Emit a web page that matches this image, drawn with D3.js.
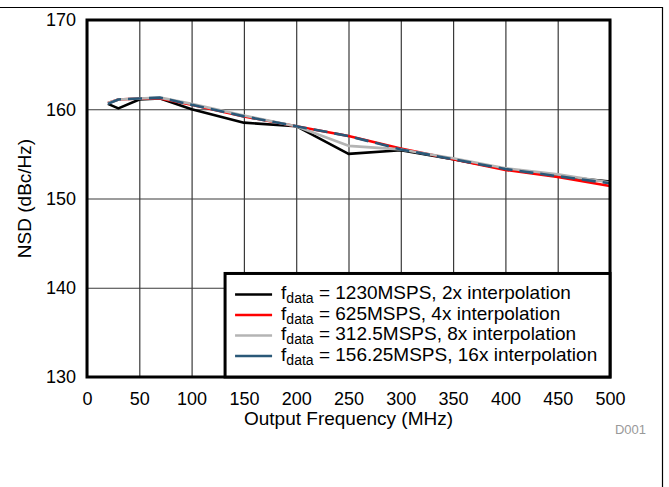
<!DOCTYPE html>
<html>
<head>
<meta charset="utf-8">
<script src="https://cdn.jsdelivr.net/npm/d3@7"></script>
<style>
  body { margin: 0; background: #fff; }
  svg { font-family: "Liberation Sans", Arial, sans-serif; }
</style>
</head>
<body>
<svg width="669" height="487"></svg>
<script>
// output frequency (MHz)
const freqs = [20, 30, 50, 70, 100, 150, 200, 250, 300, 350, 400, 450, 500];

// NSD (dBc/Hz)
const nsd2x  = [160.6, 160.1, 161.1, 161.2, 160.0, 158.5, 158.1, 155.0, 155.4, 154.4, 153.3, 152.5, 151.9];
const nsd4x  = [160.7, 161.1, 161.2, 161.2, 160.5, 159.2, 158.1, 157.0, 155.6, 154.4, 153.2, 152.4, 151.4];
const nsd8x  = [160.7, 161.1, 161.2, 161.3, 160.6, 159.3, 158.1, 155.9, 155.5, 154.5, 153.4, 152.7, 151.8];
const nsd16x = [160.6, 161.1, 161.2, 161.3, 160.5, 159.2, 158.1, 157.0, 155.5, 154.4, 153.3, 152.5, 151.7];

const legendLabels = [
  ' = 1230MSPS, 2x interpolation',
  ' = 625MSPS, 4x interpolation',
  ' = 312.5MSPS, 8x interpolation',
  ' = 156.25MSPS, 16x interpolation'
];
const colors = ['#000000', '#ff0000', '#b4b4b4', '#2a5878'];

const xTicks = [0, 50, 100, 150, 200, 250, 300, 350, 400, 450, 500];
const yTicks = [130, 140, 150, 160, 170];

const svg = d3.select('svg'),
      margin = { top: 20, right: 59, bottom: 110, left: 87 },
      width = +svg.attr('width') - margin.left - margin.right,
      height = +svg.attr('height') - margin.top - margin.bottom;

// outer frame (top + right edge)
svg.append('path')
    .attr('d', 'M0,7.5H662.5V487')
    .attr('fill', 'none')
    .attr('stroke', '#000')
    .attr('stroke-width', 1.2);

const g = svg.append('g')
    .attr('transform', 'translate(' + margin.left + ',' + margin.top + ')');

const x = d3.scaleLinear().domain([0, 500]).range([0, width]);
const y = d3.scaleLinear().domain([130, 170]).range([height, 0]);

// grid
g.append('g')
    .call(d3.axisBottom(x).tickValues(xTicks).tickSize(height).tickFormat(''))
    .call(a => a.select('.domain').remove())
    .selectAll('line')
      .attr('stroke', '#3a3a3a')
      .attr('stroke-width', 1.2);

g.append('g')
    .call(d3.axisLeft(y).tickValues(yTicks).tickSize(-width).tickFormat(''))
    .call(a => a.select('.domain').remove())
    .selectAll('line')
      .attr('stroke', '#3a3a3a')
      .attr('stroke-width', 1.2);

// tick labels
g.append('g')
    .attr('transform', 'translate(0,' + height + ')')
    .call(d3.axisBottom(x).tickValues(xTicks).tickSize(0).tickPadding(15))
    .call(a => a.select('.domain').remove())
    .selectAll('text')
      .attr('font-size', 18)
      .attr('font-family', '"Liberation Sans", Arial, sans-serif')
      .attr('fill', '#000');

g.append('g')
    .call(d3.axisLeft(y).tickValues(yTicks).tickSize(0).tickPadding(11))
    .call(a => a.select('.domain').remove())
    .selectAll('text')
      .attr('font-size', 18)
      .attr('font-family', '"Liberation Sans", Arial, sans-serif')
      .attr('fill', '#000');

// series
const series = [nsd2x, nsd4x, nsd8x, nsd16x];
const line = d3.line()
    .x((d, i) => x(freqs[i]))
    .y(d => y(d));

series.forEach((s, k) => {
  g.append('path')
      .datum(s)
      .attr('fill', 'none')
      .attr('stroke', colors[k])
      .attr('stroke-width', 2.6)
      .attr('stroke-linejoin', 'round')
      .attr('stroke-dasharray', k === 3 ? '14,7' : null)
      .attr('d', line);
});

// plot border
g.append('rect')
    .attr('width', width)
    .attr('height', height)
    .attr('fill', 'none')
    .attr('stroke', '#000')
    .attr('stroke-width', 3);

// legend
const lg = g.append('g')
    .attr('transform', 'translate(' + (x(132) ) + ',' + y(141.6) + ')');
const lw = width - x(132), lh = height - y(141.6);
lg.append('rect')
    .attr('width', lw)
    .attr('height', lh)
    .attr('fill', '#fff')
    .attr('stroke', '#000')
    .attr('stroke-width', 3);

legendLabels.forEach((lab, i) => {
  const yy = 21 + i * 20.5;
  lg.append('line')
      .attr('x1', 10).attr('x2', 47)
      .attr('y1', yy).attr('y2', yy)
      .attr('stroke', colors[i])
      .attr('stroke-width', 2.6);
  const t = lg.append('text')
      .attr('x', 56)
      .attr('y', yy + 5)
      .attr('font-size', 19)
      .attr('fill', '#000');
  t.append('tspan').text('f');
  t.append('tspan').attr('font-size', 14).attr('dy', 4).text('data');
  t.append('tspan').attr('dy', -4).text(lab);
});

// axis titles
svg.append('text')
    .attr('x', margin.left + width / 2)
    .attr('y', 425)
    .attr('text-anchor', 'middle')
    .attr('font-size', 19)
    .text('Output Frequency (MHz)');

svg.append('text')
    .attr('transform', 'translate(31,' + (margin.top + height / 2) + ') rotate(-90)')
    .attr('text-anchor', 'middle')
    .attr('font-size', 19)
    .text('NSD (dBc/Hz)');

svg.append('text')
    .attr('x', 646)
    .attr('y', 434)
    .attr('text-anchor', 'end')
    .attr('font-size', 13)
    .attr('fill', '#999')
    .text('D001');
</script>
</body>
</html>
